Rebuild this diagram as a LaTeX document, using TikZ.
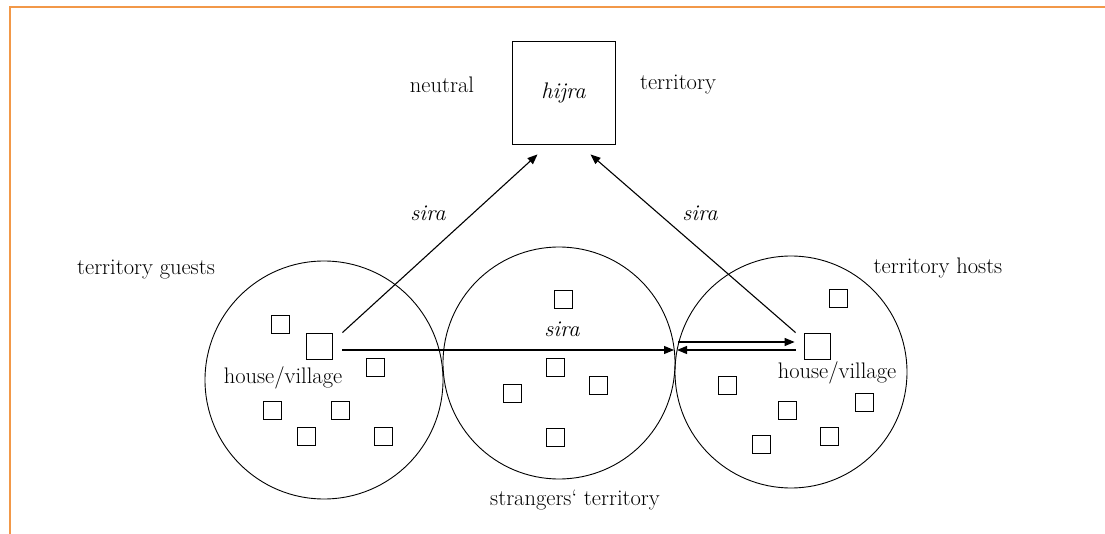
\documentclass[tikz,border=0pt]{standalone}
\usetikzlibrary{arrows.meta}
\definecolor{slideorange}{RGB}{242,152,72}

\begin{document}
\begin{tikzpicture}[x=1pt, y=-1pt,
		lbl/.style={font=\fontsize{22.5}{27}\selectfont},
		ilbl/.style={font=\fontsize{22.5}{27}\selectfont\itshape},
		area/.style={draw, circle, inner sep=0pt, line width=0.9pt},
		house/.style={draw, minimum size=18pt, inner sep=0pt, line width=0.8pt},
		bighouse/.style={house, minimum size=26pt},
		link/.style={-{Triangle[length=10pt,width=8pt]}, line width=1.1pt}]
			\useasboundingbox (0,0) rectangle (1105,534);
			\draw[slideorange, line width=1.5pt] (10,534)--(10,7)--(1105,7);
			\node[draw, line width=0.9pt, minimum size=103pt, inner sep=0pt, ilbl] (hijra) at (563.5,92.5) {hijra};
			\node[lbl] (neutral) at (442,85) {neutral};
			\node[lbl] (territory) at (678,85) {territory};
			\node[area, minimum size=238pt] (guests) at (324,380) {};
			\node[area, minimum size=232pt] (strangers) at (559,363) {};
			\node[area, minimum size=232pt] (hosts) at (791,372) {};
			\node[lbl] (guestslbl) at (146,270) {territory guests};
			\node[lbl] (hostslbl) at (938,268) {territory hosts};
			\node[lbl] (strangerslbl) at (575,500) {strangers` territory};
			\node[bighouse] (ghouse) at (319,346) {};
			\node[bighouse] (hhouse) at (817,346) {};
			\node[lbl] (gvillage) at (283,378) {house/village};
			\node[lbl] (hvillage) at (837,373) {house/village};
			\node[house] (g1) at (280,324) {};
			\node[house] (g2) at (375,367) {};
			\node[house] (g3) at (272,410) {};
			\node[house] (g4) at (340,410) {};
			\node[house] (g5) at (306,436) {};
			\node[house] (g6) at (383,436) {};
			\node[house] (s1) at (563,299) {};
			\node[house] (s2) at (555,367) {};
			\node[house] (s3) at (598,385) {};
			\node[house] (s4) at (512,393) {};
			\node[house] (s5) at (555,437) {};
			\node[house] (h1) at (838,298) {};
			\node[house] (h2) at (727,385) {};
			\node[house] (h3) at (787,410) {};
			\node[house] (h4) at (864,402) {};
			\node[house] (h5) at (829,436) {};
			\node[house] (h6) at (761,444) {};
			\coordinate (meet) at (675,350);
			\draw[link] ([xshift=10pt]ghouse.north east)--([xshift=-26pt,yshift=-10pt]hijra.south);
			\draw[link] ([xshift=-8pt]hhouse.north west)--([xshift=27pt,yshift=-10pt]hijra.south);
			\draw[link] ([xshift=10pt,yshift=-4pt]ghouse.east)--([xshift=-1pt]meet);
			\draw[link] ([xshift=3pt,yshift=8pt]meet)--([xshift=-9pt,yshift=4pt]hhouse.west);
			\draw[link] ([xshift=-8pt,yshift=-4pt]hhouse.west)--([xshift=2pt]meet);
			\node[ilbl] (siraleft) at (428,213) {sira};
			\node[ilbl] (siraright) at (700,213) {sira};
			\node[ilbl] (siramid) at (562,329) {sira};
		\end{tikzpicture}
\end{document}
